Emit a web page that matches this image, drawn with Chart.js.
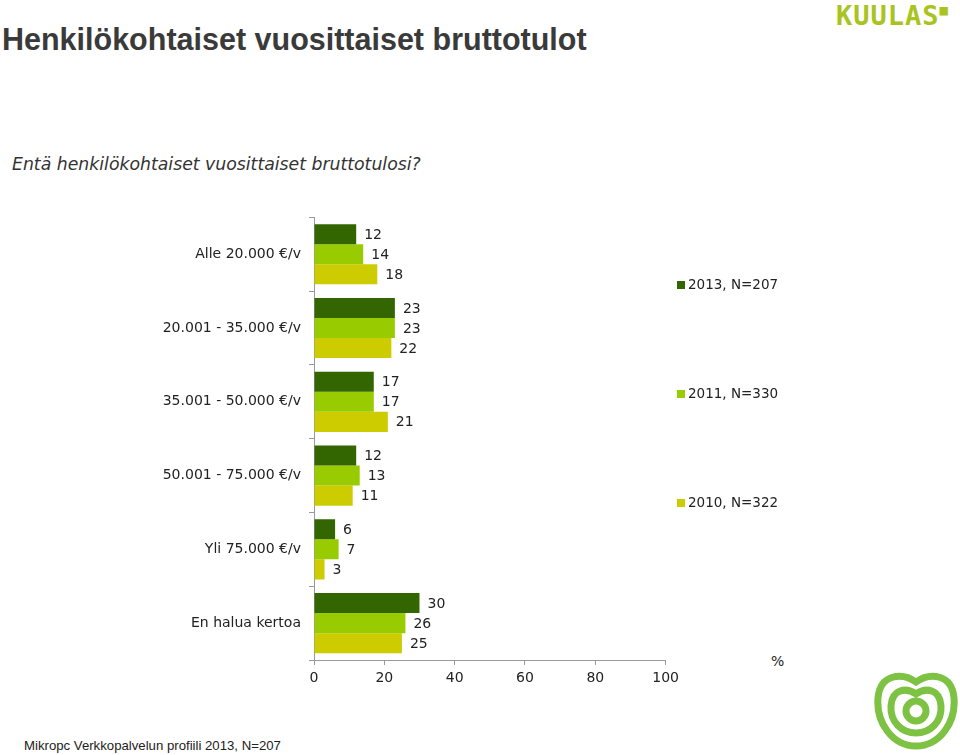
<!DOCTYPE html>
<html><head><meta charset="utf-8">
<script src="https://cdn.jsdelivr.net/npm/chart.js@4.4.1/dist/chart.umd.min.js"></script>
<style>
html,body{margin:0;padding:0;background:#fff;width:960px;height:755px;overflow:hidden;position:relative;}
#title{position:absolute;left:2px;top:22px;font:bold 30.5px "Liberation Sans",Arial,sans-serif;color:#3a3a3a;white-space:nowrap;}
#sub{position:absolute;left:12px;top:154px;font:italic 17.3px "DejaVu Sans",Verdana,sans-serif;color:#333;white-space:nowrap;}
#logo{position:absolute;left:836px;top:0px;font:bold 27px "DejaVu Sans Mono",monospace;color:#a9c31f;letter-spacing:1px;}
#foot{position:absolute;left:24px;top:738px;font:13.2px "Liberation Sans",Arial,sans-serif;color:#222;white-space:nowrap;}
#pct{position:absolute;left:771px;top:653px;font:14px "DejaVu Sans",Verdana,sans-serif;color:#222;}
#wrap{position:absolute;left:0;top:201px;width:684px;height:499px;}
.leg{position:absolute;left:677px;font:13.5px "DejaVu Sans",Verdana,sans-serif;color:#222;white-space:nowrap;}
.leg span{display:inline-block;width:8px;height:8px;margin-right:3px;vertical-align:0px;}
#apple{position:absolute;left:872px;top:670px;}
</style></head><body>
<div id="title">Henkilökohtaiset vuosittaiset bruttotulot</div>
<div id="sub">Entä henkilökohtaiset vuosittaiset bruttotulosi?</div>
<div id="logo">KUULAS<span style="font-size:14px;vertical-align:10px">■</span></div>
<div id="wrap"><canvas id="c" width="684" height="499"></canvas></div>
<div id="legend"></div>
<div id="pct">%</div>
<div id="foot">Mikropc Verkkopalvelun profiili 2013, N=207</div>
<svg id="apple" width="88" height="80" viewBox="0 0 88 80">
 <g fill="none" stroke="#7dc242" stroke-width="7">
  <path d="M44 12 C30 2 8 4 6 28 C4 52 20 76 44 76 C68 76 84 52 82 28 C80 4 58 2 44 12 Z"/>
  <path d="M44 24 C34 17 20 19 19 36 C18 52 30 63 44 63 C58 63 70 52 69 36 C68 19 54 17 44 24 Z"/>
  <circle cx="44" cy="41" r="10"/>
 </g>
</svg>
<script>
const categories = ["Alle 20.000 €/v","20.001 - 35.000 €/v","35.001 - 50.000 €/v","50.001 - 75.000 €/v","Yli 75.000 €/v","En halua kertoa"];
const seriesNames = ["2013, N=207","2011, N=330","2010, N=322"];
const values2013 = [12,23,17,12,6,30];
const values2011 = [14,23,17,13,7,26];
const values2010 = [18,22,21,11,3,25];
const xTicks = [0,20,40,60,80,100];
const colors = ["#336600","#99cc00","#cccc00"];

const legTops = [276,385,494];
const legEl = document.getElementById('legend');
seriesNames.forEach((n,i)=>{
  const d=document.createElement('div');d.className='leg';d.style.top=legTops[i]+'px';
  d.innerHTML='<span style="background:'+colors[i]+'"></span>'+n;legEl.appendChild(d);
});

const labelPlugin = {
  id:'lbl',
  afterDatasetsDraw(chart){
    const ctx=chart.ctx;ctx.save();
    ctx.font='14px "DejaVu Sans", Verdana, sans-serif';ctx.fillStyle='#222';
    ctx.textAlign='left';ctx.textBaseline='middle';
    chart.data.datasets.forEach((ds,i)=>{
      chart.getDatasetMeta(i).data.forEach((el,j)=>{
        ctx.fillText(String(ds.data[j]), el.x+8, el.y+1);
      });
    });
    ctx.restore();
  }
};

new Chart(document.getElementById('c'),{
  type:'bar',
  data:{labels:categories,datasets:[
    {label:seriesNames[0],data:values2013,backgroundColor:colors[0]},
    {label:seriesNames[1],data:values2011,backgroundColor:colors[1]},
    {label:seriesNames[2],data:values2010,backgroundColor:colors[2]}
  ]},
  options:{
    indexAxis:'y',responsive:false,animation:false,
    devicePixelRatio:1,
    layout:{padding:{top:7,right:15,left:0,bottom:0}},
    datasets:{bar:{categoryPercentage:0.815,barPercentage:1}},
    plugins:{legend:{display:false},tooltip:{enabled:false}},
    scales:{
      x:{min:0,max:100,
        afterBuildTicks(s){s.ticks=xTicks.map(v=>({value:v}));},
        afterFit(s){s.height=40;},
        grid:{drawOnChartArea:false,tickLength:5,color:'#999'},
        border:{color:'#999'},
        ticks:{color:'#222',font:{family:'"DejaVu Sans", Verdana, sans-serif',size:14},padding:5,autoSkip:false,maxRotation:0}},
      y:{
        afterFit(s){s.width=314;},
        grid:{offset:true,drawOnChartArea:false,tickLength:5,color:'#999'},
        border:{color:'#999'},
        ticks:{color:'#222',font:{family:'"DejaVu Sans", Verdana, sans-serif',size:14},padding:8,autoSkip:false}}
    }
  },
  plugins:[labelPlugin]
});
</script>
</body></html>
